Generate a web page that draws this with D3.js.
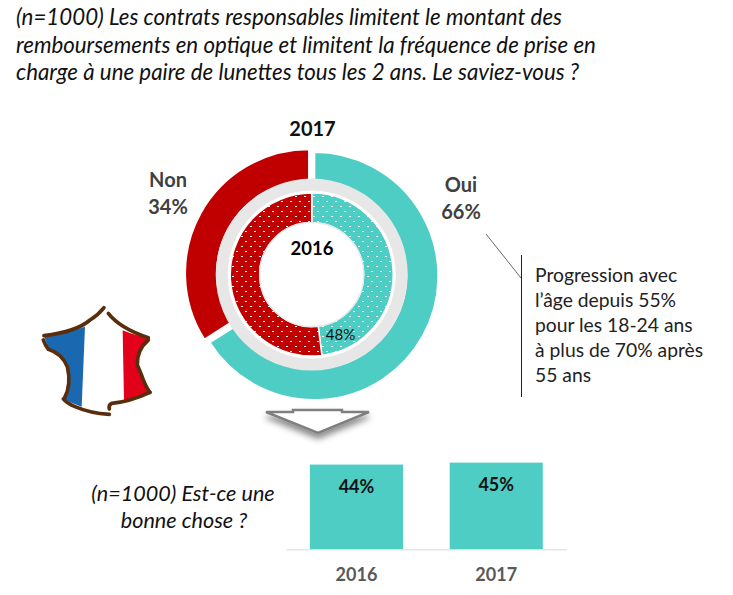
<!DOCTYPE html>
<html>
<head>
<meta charset="utf-8">
<script src="https://cdnjs.cloudflare.com/ajax/libs/d3/7.8.5/d3.min.js"></script>
<style>
  html, body { margin: 0; padding: 0; background: #fff; }
  text { font-family: Lato, sans-serif; }
</style>
</head>
<body>
<svg class="chart" width="733" height="595"></svg>
<script>
const answers = ['Oui', 'Non']
const values2017 = [66, 34]
const values2016 = [48, 52]
const barYears = ['2016', '2017']
const barValues = [44, 45]
const titleLines = [
  '(n=1000) Les contrats responsables limitent le montant des',
  'remboursements en optique et limitent la fréquence de prise en',
  'charge à une paire de lunettes tous les 2 ans. Le saviez-vous ?'
]
const noteLines = ['Progression avec', 'l’âge depuis 55%', 'pour les 18-24 ans', 'à plus de 70% après', '55 ans']
const questionLines = ['(n=1000) Est-ce une', 'bonne chose ?']

const teal = '#4ecdc4'
const red = '#c00000'
const colors = d3.scaleOrdinal().domain(answers).range([teal, red])

const svg = d3.select('.chart')
const defs = svg.append('defs')

// white dots on the 2016 ring
answers.forEach(a => {
  const p = defs.append('pattern')
    .attr('id', 'dots-' + a)
    .attr('width', 18).attr('height', 10)
    .attr('patternUnits', 'userSpaceOnUse')
    .attr('patternTransform', 'translate(0.3,0.4)')
  p.append('rect').attr('width', 18).attr('height', 10).attr('fill', colors(a))
  p.append('rect').attr('x', 1).attr('y', 1).attr('width', 2).attr('height', 1).attr('fill', '#fff')
  p.append('rect').attr('x', 10).attr('y', 1).attr('width', 2).attr('height', 1).attr('fill', '#fff')
  p.append('rect').attr('x', 5).attr('y', 6).attr('width', 2).attr('height', 1).attr('fill', '#fff')
  p.append('rect').attr('x', 14).attr('y', 6).attr('width', 2).attr('height', 1).attr('fill', '#fff')
})

const shadow = defs.append('filter').attr('id', 'shadow')
  .attr('x', '-20%').attr('y', '-20%').attr('width', '140%').attr('height', '190%')
shadow.append('feDropShadow')
  .attr('dx', 0).attr('dy', 5).attr('stdDeviation', 3)
  .attr('flood-color', '#000').attr('flood-opacity', 0.45)

// title
svg.append('g').selectAll('text')
  .data(titleLines)
  .enter().append('text')
  .attr('x', 16)
  .attr('y', (d, i) => 25 + i * 27.5)
  .attr('font-size', 22.3)
  .attr('font-style', 'italic')
  .attr('fill', '#111')
  .text(d => d)

// donuts
const cx = 311.7
const cy = 274.6
const pie = d3.pie().sort(null)
const explode = 3

const outerArc = d3.arc().innerRadius(92).outerRadius(124)
const outer = svg.append('g').attr('transform', `translate(${cx},${cy})`)
outer.selectAll('path')
  .data(pie(values2017))
  .enter().append('path')
  .attr('transform', d => {
    const a = (d.startAngle + d.endAngle) / 2
    return `translate(${Math.sin(a) * explode},${-Math.cos(a) * explode})`
  })
  .attr('d', outerArc)
  .attr('fill', (d, i) => colors(answers[i]))
  .attr('stroke', '#fff')
  .attr('stroke-width', 2)

outer.append('circle').attr('r', 96).attr('fill', '#e7e7e7')
outer.append('circle').attr('r', 84).attr('fill', '#fff')

const innerArc = d3.arc().innerRadius(52).outerRadius(81.5)
const inner = outer.append('g')
inner.selectAll('path')
  .data(pie(values2016))
  .enter().append('path')
  .attr('d', innerArc)
  .attr('fill', (d, i) => `url(#dots-${answers[i]})`)
  .attr('stroke', '#fff')
  .attr('stroke-width', 1.5)
outer.append('circle').attr('r', 52).attr('fill', '#fff').attr('stroke', '#e7e7e7').attr('stroke-width', 1.2)

svg.append('text').attr('x', 312.5).attr('y', 135.5).attr('text-anchor', 'middle')
  .attr('font-size', 20).attr('font-weight', 700).attr('fill', '#111').text('2017')
svg.append('text').attr('x', 312).attr('y', 255).attr('text-anchor', 'middle')
  .attr('font-size', 18.5).attr('font-weight', 700).attr('fill', '#000').text('2016')
svg.append('text').attr('x', 340.5).attr('y', 340).attr('text-anchor', 'middle')
  .attr('font-size', 15).attr('fill', '#111').text(values2016[0] + '%')

// slice labels 2017
const sliceLabels = [
  { x: 461, lines: [answers[0], values2017[0] + '%'], y: 192 },
  { x: 168, lines: [answers[1], values2017[1] + '%'], y: 186.5 }
]
sliceLabels.forEach(l => {
  svg.append('g').selectAll('text').data(l.lines).enter().append('text')
    .attr('x', l.x)
    .attr('y', (d, i) => l.y + i * 27)
    .attr('text-anchor', 'middle')
    .attr('font-size', 20)
    .attr('font-weight', 700)
    .attr('fill', '#404040')
    .text(d => d)
})

// note next to the ring
svg.append('line').attr('x1', 486).attr('y1', 234).attr('x2', 521).attr('y2', 278)
  .attr('stroke', '#444').attr('stroke-width', 0.8)
svg.append('line').attr('x1', 521.5).attr('y1', 255).attr('x2', 521.5).attr('y2', 397)
  .attr('stroke', '#222').attr('stroke-width', 1)
svg.append('g').selectAll('text')
  .data(noteLines)
  .enter().append('text')
  .attr('x', 535)
  .attr('y', (d, i) => 282 + i * 25)
  .attr('font-size', 19.3)
  .attr('fill', '#222')
  .text(d => d)

// France
const flag = svg.append('g').attr('transform', 'translate(30,295) scale(0.3333)')
const flagFill = (d, c) => flag.append('path').attr('d', d).attr('fill', c)
flagFill('M42,122 Q110,115 165,95 L155,335 Q125,325 100,312 Q125,270 112,215 Q95,175 55,163 Z', '#1a68b0')
flagFill('M278,106 Q315,122 357,128 Q320,165 322,210 Q335,240 340,255 Q350,280 360,292 Q320,308 282,315 Z', '#e3001b')
const flagStrokes = [
  'M42,122 Q140,110 180,75 Q205,60 222,38',
  'M235,55 Q270,100 355,128',
  'M355,135 Q320,165 322,210 Q335,240 340,255 Q350,280 360,292',
  'M360,292 Q300,320 245,325 Q235,330 238,342',
  'M238,358 Q180,355 135,335 Q110,325 100,312',
  'M103,310 Q125,270 112,215 Q95,175 55,163 Q45,150 40,135'
]
flag.selectAll('.edge').data(flagStrokes).enter().append('path')
  .attr('class', 'edge').attr('d', d => d)
  .attr('fill', 'none').attr('stroke', '#5a2d0c').attr('stroke-width', 11).attr('stroke-linecap', 'round')

// arrow between the donut and the bars
const arrow = [[266, 412], [293, 412], [293, 410], [342, 410], [342, 412], [369, 412], [318, 433]]
svg.append('path')
  .attr('d', d3.line()(arrow) + 'Z')
  .attr('fill', '#fff')
  .attr('stroke', '#7f7f7f')
  .attr('stroke-width', 2.5)
  .attr('filter', 'url(#shadow)')

// bars
const xBar = d3.scaleBand().domain(barYears).range([286, 566.7]).paddingInner(0.334).paddingOuter(0.171)
const yBar = d3.scaleLinear().domain([0, 50]).range([549.3, 453])

svg.selectAll('.bar').data(barValues).enter().append('rect')
  .attr('class', 'bar')
  .attr('x', (d, i) => xBar(barYears[i]))
  .attr('y', d => yBar(d))
  .attr('width', xBar.bandwidth())
  .attr('height', d => yBar(0) - yBar(d))
  .attr('fill', teal)

svg.selectAll('.barlabel').data(barValues).enter().append('text')
  .attr('class', 'barlabel')
  .attr('x', (d, i) => xBar(barYears[i]) + xBar.bandwidth() / 2)
  .attr('y', d => yBar(d) + 28)
  .attr('text-anchor', 'middle')
  .attr('font-size', 18)
  .attr('font-weight', 700)
  .attr('fill', '#111')
  .text(d => d + '%')

const xAxis = svg.append('g')
  .attr('transform', `translate(0,${yBar(0)})`)
  .call(d3.axisBottom(xBar).tickSize(0).tickPadding(19))
xAxis.select('.domain').attr('stroke', '#d9d9d9').attr('stroke-width', 1)
xAxis.selectAll('text')
  .attr('font-family', 'Lato, sans-serif')
  .attr('font-size', 18)
  .attr('font-weight', 700)
  .attr('fill', '#595959')

// question left of the bars
svg.append('g').selectAll('text')
  .data(questionLines)
  .enter().append('text')
  .attr('x', (d, i) => i === 0 ? 183 : 184)
  .attr('y', (d, i) => 501 + i * 27)
  .attr('text-anchor', 'middle')
  .attr('font-size', 21.6)
  .attr('font-style', 'italic')
  .attr('fill', '#111')
  .text(d => d)
</script>
</body>
</html>
